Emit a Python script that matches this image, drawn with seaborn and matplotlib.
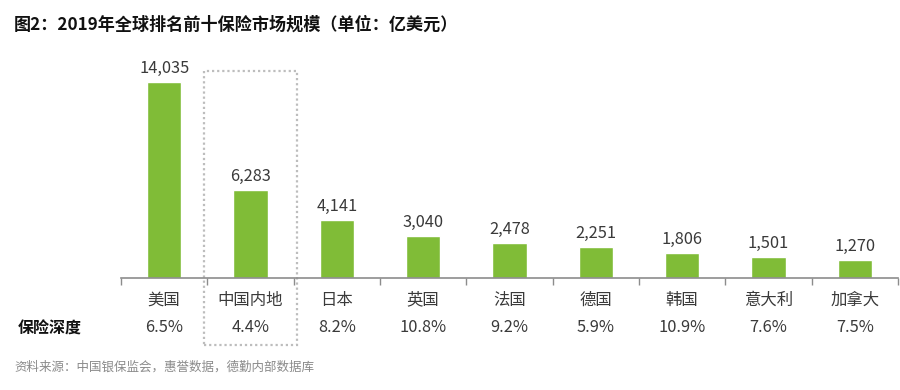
import matplotlib
matplotlib.use("Agg")
import matplotlib.pyplot as plt
import seaborn as sns
import pandas as pd
from matplotlib.patches import Rectangle

# --- DATA ---
countries = ["美国", "中国内地", "日本", "英国", "法国", "德国", "韩国", "意大利", "加拿大"]
premiums = [14035, 6283, 4141, 3040, 2478, 2251, 1806, 1501, 1270]
depth = ["6.5%", "4.4%", "8.2%", "10.8%", "9.2%", "5.9%", "10.9%", "7.6%", "7.5%"]

TITLE = "图2：2019年全球排名前十保险市场规模（单位：亿美元）"
SOURCE = "资料来源：中国银保监会，惠誉数据，德勤内部数据库"
BAR_COLOR = "#80BC37"
TEXT_COLOR = "#3a3a3a"
AXIS_COLOR = "#8c8c8c"

sns.set_theme(style="white")
plt.rcParams["font.family"] = ["Noto Sans CJK SC", "DejaVu Sans"]

df = pd.DataFrame({"country": countries, "premium": premiums})

fig = plt.figure(figsize=(9, 3.9), dpi=100)
# axes: bottom at y=278px, top at y=50px, from x=121 to x=898
ax = fig.add_axes([121 / 900, 1 - 278 / 390, (898 - 121) / 900, (278 - 50) / 390])

sns.barplot(data=df, x="country", y="premium", color=BAR_COLOR, width=0.4,
            saturation=1, ax=ax)

ymax = 14035 * 228 / 196
ax.set_ylim(0, ymax)
ax.set_xlim(-0.5, len(countries) - 0.5)

# value labels
for i, v in enumerate(premiums):
    ax.text(i, v + ymax * 0.022, f"{v:,}", ha="center", va="bottom",
            fontsize=11.8, color=TEXT_COLOR)

# axis styling
for s in ["top", "right", "left"]:
    ax.spines[s].set_visible(False)
ax.spines["bottom"].set_color(AXIS_COLOR)
ax.spines["bottom"].set_linewidth(1.2)
ax.set_yticks([])
ax.set_xticks([i - 0.5 for i in range(len(countries) + 1)])
ax.set_xticklabels([])
ax.tick_params(axis="x", direction="out", length=5, width=1, color=AXIS_COLOR, bottom=True)
ax.set_xlabel("")
ax.set_ylabel("")

# category labels and depth row (in data x, axes-fraction y)
trans = ax.get_xaxis_transform()
for i, (c, d) in enumerate(zip(countries, depth)):
    ax.text(i, -22 / 228, c, transform=trans, ha="center", va="center",
            fontsize=11.8, color=TEXT_COLOR, clip_on=False)
    ax.text(i, -50 / 228, d, transform=trans, ha="center", va="center",
            fontsize=11.8, color=TEXT_COLOR, clip_on=False)

fig.text(18 / 900, 1 - 329 / 390, "保险深度", ha="left", va="center",
         fontsize=11.5, fontweight="bold", color="#111111")

# dotted highlight box around China
box = Rectangle((1 - 0.535, -67 / 228), 1.07, (67 + 207) / 228, transform=trans,
                fill=False, edgecolor="#bdbdbd", linestyle=(0, (1, 1.3)),
                linewidth=1.6, clip_on=False)
ax.add_patch(box)

fig.text(14 / 900, 1 - 25 / 390, TITLE, ha="left", va="center",
         fontsize=12.3, fontweight="bold", color="#111111")
fig.text(14 / 900, 1 - 367 / 390, SOURCE, ha="left", va="center",
         fontsize=9, color="#8a8a8a")

fig.savefig("out.png", dpi=100)
